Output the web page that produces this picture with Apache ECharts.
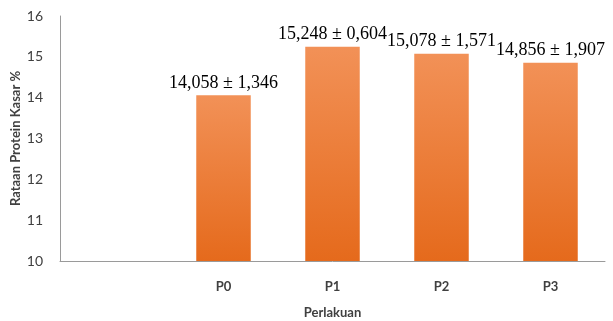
<!DOCTYPE html>
<html>
<head>
<meta charset="utf-8">
<script src="https://cdn.jsdelivr.net/npm/echarts@6/dist/echarts.min.js"></script>
<style>html,body{margin:0;padding:0;background:#fff;}#c{width:613px;height:321px;}</style>
</head>
<body>
<div id="c"></div>
<script>
var categories = ['', 'P0', 'P1', 'P2', 'P3'];
var values = [null, 14.058, 15.248, 15.078, 14.856];
var errorLabels = ['', '14,058 ± 1,346', '15,248 ± 0,604', '15,078 ± 1,571', '14,856 ± 1,907'];
var yTicks = [10, 11, 12, 13, 14, 15, 16];

var chart = echarts.init(document.getElementById('c'));
chart.setOption({
  animation: false,
  grid: {left: 60, right: 8, top: 16, bottom: 60, containLabel: false, outerBoundsMode: 'none'},
  xAxis: {
    type: 'category',
    data: categories,
    name: 'Perlakuan',
    nameLocation: 'middle',
    nameGap: 45,
    nameMoveOverlap: false,
    nameTextStyle: {fontFamily: 'Lato', fontSize: 13, fontWeight: 'bold', color: '#404040'},
    axisLine: {lineStyle: {color: '#9a9a9a', width: 1}},
    axisTick: {show: false},
    axisLabel: {fontFamily: 'Lato', fontSize: 13, fontWeight: 'bold', color: '#404040', margin: 19}
  },
  yAxis: {
    type: 'value',
    min: yTicks[0],
    max: yTicks[yTicks.length - 1],
    interval: 1,
    name: 'Rataan Protein Kasar %',
    nameLocation: 'middle',
    nameGap: 38,
    nameMoveOverlap: false,
    nameTextStyle: {fontFamily: 'Lato', fontSize: 13, fontWeight: 'bold', color: '#404040'},
    axisLine: {show: true, lineStyle: {color: '#9a9a9a', width: 1}},
    axisTick: {show: false},
    splitLine: {show: false},
    axisLabel: {fontFamily: 'Lato', fontSize: 14, color: '#404040', margin: 17}
  },
  series: [{
    type: 'bar',
    data: values,
    barWidth: '50%',
    itemStyle: {
      color: new echarts.graphic.LinearGradient(0, 0, 0, 1, [
        {offset: 0, color: '#F29157'},
        {offset: 1, color: '#E56A1C'}
      ])
    },
    label: {
      show: true,
      position: 'top',
      distance: 3,
      fontFamily: 'Liberation Serif',
      fontSize: 18,
      color: '#000',
      formatter: function (p) { return errorLabels[p.dataIndex]; }
    }
  }]
});
</script>
</body>
</html>
